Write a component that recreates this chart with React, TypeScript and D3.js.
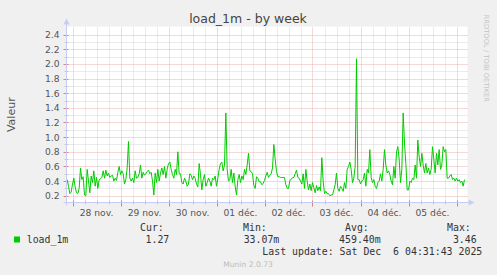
import React from "react";
import * as d3 from "d3";

const TITLE = "load_1m - by week";
const Y_LABEL = "Valeur";
const SIDE_LABEL = "RRDTOOL / TOBI OETIKER";
const FOOTER = "Munin 2.0.73";
const SERIES_NAME = "load_1m";
const STAT_HEADERS = ["Cur:", "Min:", "Avg:", "Max:"];
const STAT_VALUES = ["1.27", "33.07m", "459.40m", "3.46"];
const LAST_UPDATE = "Last update: Sat Dec  6 04:31:43 2025";
const DAY_LABELS = ["28 nov.", "29 nov.", "30 nov.", "01 déc.", "02 déc.", "03 déc.", "04 déc.", "05 déc."];
const Y_TICKS = [0.2, 0.4, 0.6, 0.8, 1.0, 1.2, 1.4, 1.6, 1.8, 2.0, 2.2, 2.4];

// samples every 40 minutes starting Nov 27 21:20
const DATA_START = new Date(2025, 10, 27, 21, 20);
const STEP_MIN = 40;
const LOAD = [
  0.42,0.33,0.23,0.25,0.36,0.44,0.32,0.24,0.23,0.30,
  0.58,0.42,0.46,0.21,0.20,0.56,0.40,0.24,0.47,0.38,
  0.54,0.33,0.45,0.30,0.42,0.43,0.45,0.54,0.44,0.55,
  0.47,0.51,0.45,0.47,0.48,0.40,0.44,0.41,0.52,0.60,
  0.49,0.54,0.50,0.36,0.42,0.58,0.94,0.44,0.40,0.44,
  0.38,0.54,0.44,0.45,0.50,0.62,0.44,0.52,0.48,0.50,
  0.53,0.55,0.50,0.52,0.40,0.21,0.51,0.38,0.56,0.40,
  0.51,0.58,0.49,0.60,0.44,0.56,0.64,0.66,0.56,0.49,
  0.44,0.56,0.49,0.80,0.50,0.50,0.38,0.36,0.44,0.40,
  0.33,0.36,0.50,0.48,0.42,0.47,0.44,0.36,0.32,0.64,
  0.49,0.28,0.42,0.49,0.33,0.38,0.44,0.40,0.33,0.44,
  0.42,0.47,0.33,0.44,0.56,0.64,0.66,0.54,0.62,1.33,
  0.56,0.40,0.42,0.56,0.38,0.51,0.33,0.21,0.42,0.49,
  0.38,0.47,0.42,0.56,0.49,0.62,0.78,0.54,0.53,0.50,
  0.34,0.30,0.46,0.44,0.39,0.39,0.35,0.37,0.41,0.47,
  0.52,0.45,0.48,0.50,0.58,0.90,0.70,0.53,0.46,0.46,
  0.45,0.45,0.45,0.45,0.35,0.30,0.30,0.41,0.42,0.45,
  0.45,0.50,0.55,0.45,0.44,0.40,0.36,0.50,0.30,0.56,
  0.40,0.28,0.36,0.27,0.38,0.31,0.24,0.34,0.27,0.32,
  0.27,0.72,0.40,0.23,0.26,0.23,0.23,0.20,0.21,0.21,
  0.28,0.35,0.51,0.30,0.26,0.33,0.30,0.26,0.38,0.30,
  0.56,0.60,0.66,0.56,0.38,0.44,0.60,2.07,0.42,0.42,
  0.36,0.40,0.42,0.51,0.33,0.56,0.51,0.83,0.45,0.38,
  0.42,0.33,0.30,0.38,0.40,0.50,0.40,0.56,0.83,0.62,
  0.51,0.54,0.49,0.40,0.35,0.60,0.44,0.80,0.87,0.70,
  0.38,0.56,1.33,0.92,0.64,0.28,0.28,0.40,0.38,0.44,
  0.42,0.62,0.44,0.96,0.73,0.60,0.78,0.62,0.51,0.64,
  0.51,0.58,0.49,0.56,0.87,0.70,0.51,0.78,0.62,0.83,
  0.56,0.62,0.87,0.80,0.83,0.44,0.44,0.47,0.49,0.42,
  0.44,0.40,0.44,0.40,0.42,0.38,0.40,0.33,0.42,
];

const T0 = new Date(2025, 10, 27, 21, 0);
const T1 = new Date(2025, 11, 6, 5, 30);
const Y_DOMAIN = [0.108, 2.495];

const W = 497, H = 275;
const PL = 66.5, PR = 467.5, PT = 27.6, PB = 202.5;

const FONT = "DejaVu Sans, sans-serif";
const MONO = "DejaVu Sans Mono, monospace";

const px = (v: number) => Math.round(v) + 0.5;

export default function App() {
  const x = d3.scaleTime().domain([T0, T1]).range([PL, PR]);
  const y = d3.scaleLinear().domain(Y_DOMAIN).range([PB, PT]);

  const points = LOAD.map((v, i) => ({ t: d3.timeMinute.offset(DATA_START, i * STEP_MIN), v }));
  const line = d3.line<{ t: Date; v: number }>().x((d) => x(d.t)).y((d) => y(d.v));

  const minorX = d3.timeHour.every(6)!.range(T0, T1).filter((d) => d.getHours() !== 0);
  const majorX = d3.timeDay.range(T0, T1).filter((d) => d > T0);
  const noon = majorX.map((d) => d3.timeHour.offset(d, 12));
  const minorY = d3.range(2, 26).map((i) => i / 10).filter((v) => Math.round(v * 10) % 2 === 1 && v >= Y_DOMAIN[0] && v <= Y_DOMAIN[1]);

  const axisColor = "#c8ccf4";
  const minorColor = "#d6d6d6";
  const majorColor = "#eab0b0";
  const textColor = "#555";

  return (
    <svg width={W} height={H} style={{ position: "absolute", left: 0, top: 0, display: "block" }} fontFamily={FONT}>
      <rect x={0} y={0} width={W} height={H} fill="#f0f0f0" />
      <rect x={PL} y={PT - 1} width={PR - PL} height={PB - PT + 1} fill="#ffffff" />

      {/* minor grid */}
      {minorX.map((d, i) => (
        <line key={"mx" + i} x1={px(x(d))} x2={px(x(d))} y1={PB} y2={PT} stroke={minorColor} strokeDasharray="1,1" />
      ))}
      {minorY.map((v, i) => (
        <line key={"my" + i} x1={PL} x2={PR} y1={px(y(v))} y2={px(y(v))} stroke={minorColor} strokeDasharray="1,1" />
      ))}
      {/* major grid */}
      {majorX.map((d, i) => (
        <line key={"Mx" + i} x1={px(x(d))} x2={px(x(d))} y1={PB} y2={PT} stroke={majorColor} strokeDasharray="1,1" />
      ))}
      {Y_TICKS.map((v, i) => (
        <line key={"My" + i} x1={PL} x2={PR} y1={px(y(v))} y2={px(y(v))} stroke={majorColor} strokeDasharray="1,1" />
      ))}

      {/* ticks */}
      {minorX.map((d, i) => (
        <line key={"tmx" + i} x1={px(x(d))} x2={px(x(d))} y1={PB - 2} y2={PB + 2} stroke="#c8c8c8" />
      ))}
      {majorX.map((d, i) => (
        <line key={"tMx" + i} x1={px(x(d))} x2={px(x(d))} y1={PB - 2} y2={PB + 4} stroke="#e08080" />
      ))}
      {minorY.map((v, i) => (
        <line key={"tmy" + i} x1={PL - 2} x2={PL + 2} y1={px(y(v))} y2={px(y(v))} stroke="#c8c8c8" />
      ))}
      {Y_TICKS.map((v, i) => (
        <line key={"tMy" + i} x1={PL - 3} x2={PL + 2} y1={px(y(v))} y2={px(y(v))} stroke="#e08080" />
      ))}

      {/* data */}
      <path d={line(points) || ""} fill="none" stroke="#00cc00" strokeWidth={1} />

      {/* axes */}
      <line x1={PL} x2={PL} y1={PB + 3} y2={PT - 4} stroke={axisColor} />
      <path d={`M${PL - 3},${PT - 3} L${PL},${PT - 9} L${PL + 3},${PT - 3} Z`} fill={axisColor} />
      <line x1={PL - 3} x2={PR + 2} y1={PB} y2={PB} stroke={axisColor} />
      <path d={`M${PR + 1},${PB - 3} L${PR + 7},${PB} L${PR + 1},${PB + 3} Z`} fill={axisColor} />

      {/* y labels */}
      {Y_TICKS.map((v, i) => (
        <text key={"yl" + i} x={59.5} y={y(v) + 3.4} fontSize={9.2} fill={textColor} textAnchor="end">
          {d3.format(".1f")(v)}
        </text>
      ))}
      {/* x labels */}
      {noon.map((d, i) => (
        <text key={"xl" + i} x={x(d)} y={215.7} fontSize={9.2} fill={textColor} textAnchor="middle">
          {DAY_LABELS[i]}
        </text>
      ))}

      {/* titles */}
      <text x={248} y={23} fontSize={12.5} fill="#444" textAnchor="middle">{TITLE}</text>
      <text transform={`translate(14.5,114.7) rotate(-90)`} fontSize={11} fill={textColor} textAnchor="middle">{Y_LABEL}</text>
      <text transform={`translate(484.3,14.5) rotate(90)`} fontSize={6.8} fill="#c4c4c4" textAnchor="start">{SIDE_LABEL}</text>

      {/* legend */}
      <rect x={14} y={236.5} width={6} height={6} fill="#00cc00" />
      <text x={26.7} y={242.5} fontFamily={MONO} fontSize={9.9} fill="#333">{SERIES_NAME}</text>
      {STAT_HEADERS.map((h, i) => (
        <text key={"h" + i} x={[140, 243, 345, 447][i]} y={231} fontFamily={MONO} fontSize={9.9} fill="#333">{h}</text>
      ))}
      {STAT_VALUES.map((v, i) => (
        <text key={"v" + i} x={[169.3, 279.3, 380.7, 476.7][i]} y={242.5} fontFamily={MONO} fontSize={9.9} fill="#333" textAnchor="end">{v}</text>
      ))}
      <text x={482.3} y={255} fontFamily={MONO} fontSize={9.9} fill="#333" textAnchor="end" style={{ whiteSpace: "pre" }}>{LAST_UPDATE}</text>
      <text x={248} y={267} fontSize={7.6} fill="#bbbbbb" textAnchor="middle">{FOOTER}</text>
    </svg>
  );
}
